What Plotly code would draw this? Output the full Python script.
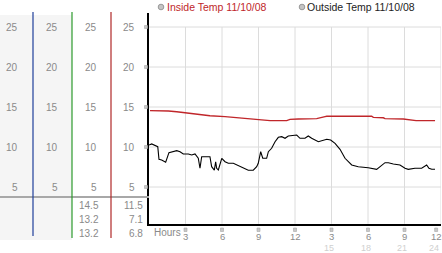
import plotly.graph_objects as go

W, H = 442, 253

# ---- data ----
inside_hours = [0.08, 1.32, 1.59, 2.28, 3.51, 4.33, 5.01, 6.25, 7.34, 7.89, 9.12, 9.95, 11.32,
                11.59, 12.27, 13.78, 14.47, 14.61, 18.3, 18.44, 19.26, 19.4, 20.9, 21.86, 21.95, 23.51]
inside_temp = [14.55, 14.55, 14.5, 14.4, 14.2, 14.1, 13.9, 13.8, 13.65, 13.6, 13.45, 13.3, 13.3,
               13.45, 13.5, 13.55, 13.8, 13.85, 13.85, 13.7, 13.65, 13.55, 13.5, 13.4, 13.3, 13.3]

outside_hours = [0.0, 0.22, 0.72, 0.82, 1.04, 1.37, 1.64, 1.87, 2.28, 2.55, 2.82, 3.23, 3.51, 3.78,
                 4.05, 4.19, 4.33, 4.60, 5.01, 5.15, 5.37, 5.48, 5.56, 5.70, 5.98, 6.25, 6.52, 6.93,
                 7.21, 7.62, 7.89, 8.16, 8.57, 8.85, 8.98, 9.18, 9.35, 9.67, 9.81, 10.08, 10.36,
                 10.63, 10.91, 11.18, 11.45, 11.86, 12.14, 12.41, 12.82, 13.09, 13.37, 13.92, 14.19,
                 14.61, 14.93, 15.29, 15.70, 16.11, 16.66, 17.20, 18.02, 18.71, 19.40, 19.67, 20.08,
                 20.63, 21.04, 21.31, 21.86, 22.41, 22.82, 23.01, 23.24, 23.51]
outside_temp = [10.25, 10.38, 10.04, 8.46, 8.38, 8.09, 9.29, 9.41, 9.54, 9.41, 9.13, 9.13, 9.0, 9.13,
                8.59, 7.34, 8.79, 8.79, 8.79, 7.54, 7.1, 8.16, 7.34, 7.13, 8.59, 8.16, 7.96, 7.96,
                7.75, 7.54, 7.34, 7.1, 7.1, 7.54, 7.96, 9.41, 8.59, 8.59, 9.41, 9.84, 10.66,
                11.21, 11.29, 11.09, 11.38, 11.5, 11.5, 11.09, 11.09, 11.38, 11.09, 10.66, 10.79,
                10.96, 10.88, 10.46, 9.71, 8.59, 7.75, 7.54, 7.41, 7.21, 8.04, 8.04, 7.88,
                7.75, 7.34, 7.21, 7.34, 7.34, 7.75, 7.34, 7.21, 7.21]

y_ticks = [5, 10, 15, 20, 25]
x_ticks = [3, 6, 9, 12, 15, 18, 21, 24]
x_tick_labels = ["3", "6", "9", "12", "3", "6", "9", "12"]
x_tick_labels2 = ["15", "18", "21", "24"]
legend_names = ["Inside Temp 11/10/08", "Outside Temp 11/10/08"]
inside_stats = ["14.5", "13.2", "13.2"]
outside_stats = ["11.5", "7.1", "6.8"]

def px(x):
    return x / W

def py(y):
    return 1 - y / H

FONT = "Liberation Sans, Arial, sans-serif"
GRAY = "#8a8a8a"
X0_PX, X1_PX = 149, 441

def hour_px(h):
    return X0_PX + (X1_PX - X0_PX) * h / 24.0

def val_py(v):
    return 227 - 8 * v

fig = go.Figure()
fig.add_trace(go.Scatter(x=inside_hours, y=inside_temp, mode="lines",
                         line=dict(color="#c0262a", width=1.4), hoverinfo="skip"))
fig.add_trace(go.Scatter(x=outside_hours, y=outside_temp, mode="lines",
                         line=dict(color="#000000", width=1.1), hoverinfo="skip"))

shapes = []
# left panel background
shapes.append(dict(type="rect", xref="paper", yref="paper", x0=px(0), x1=px(72), y0=py(240), y1=py(15),
                   fillcolor="#f5f5f5", line=dict(width=0), layer="below"))
# gridlines
for xv in x_ticks:
    shapes.append(dict(type="line", xref="x", yref="y", x0=xv, x1=xv, y0=0.4, y1=25,
                       line=dict(color="#dcdcdc", width=1), layer="below"))
for yv in y_ticks:
    shapes.append(dict(type="line", xref="x", yref="y", x0=0, x1=24, y0=yv, y1=yv,
                       line=dict(color="#dcdcdc", width=1), layer="below"))
# separator
shapes.append(dict(type="line", xref="paper", yref="paper", x0=px(0), x1=px(149), y0=py(197), y1=py(197),
                   line=dict(color="#a8a8a8", width=2)))
# colored column lines
for xx, col, yb in [(33, "#1f3f9a", 236), (72, "#2c9a2c", 238), (111, "#b02828", 238)]:
    shapes.append(dict(type="line", xref="paper", yref="paper", x0=px(xx), x1=px(xx), y0=py(yb), y1=py(12),
                       line=dict(color=col, width=1.2)))
# legend circles
for cx in [161, 302]:
    shapes.append(dict(type="circle", xref="paper", yref="paper", x0=px(cx - 2.8), x1=px(cx + 2.8),
                       y0=py(7 + 2.8), y1=py(7 - 2.8), fillcolor="#c4c4c4", line=dict(color="#999", width=1)))
# small tick marks beside y axis
for yv in y_ticks:
    yy = val_py(yv)
    shapes.append(dict(type="rect", xref="paper", yref="paper", x0=px(144.5), x1=px(147.5),
                       y0=py(yy + 1.5), y1=py(yy - 1.5), fillcolor="#c8c8c8", line=dict(color="#a8a8a8", width=0.6)))
# small tick marks above hour labels
for xv in x_ticks:
    xx = hour_px(min(xv, 23.6))
    shapes.append(dict(type="rect", xref="paper", yref="paper", x0=px(xx - 1.5), x1=px(xx + 1.5),
                       y0=py(231.5), y1=py(228), fillcolor="#c8c8c8", line=dict(color="#a8a8a8", width=0.6)))

ann = []
# left column tick labels
for right_x in [20, 60, 99, 137]:
    for yv in y_ticks:
        ann.append(dict(x=px(right_x), y=yv, xref="paper", yref="y", text=str(yv), showarrow=False,
                        xanchor="right", yanchor="middle", font=dict(family=FONT, size=10, color=GRAY)))
# stats
for i, (a, b) in enumerate(zip(inside_stats, outside_stats)):
    yy = 205 + i * 14
    ann.append(dict(x=px(101), y=py(yy), xref="paper", yref="paper", text=a, showarrow=False,
                    xanchor="right", yanchor="middle", font=dict(family=FONT, size=10, color=GRAY)))
    ann.append(dict(x=px(145), y=py(yy), xref="paper", yref="paper", text=b, showarrow=False,
                    xanchor="right", yanchor="middle", font=dict(family=FONT, size=10, color=GRAY)))
# x axis labels
ann.append(dict(x=px(152), y=py(232), xref="paper", yref="paper", text="Hours", showarrow=False,
                xanchor="left", yanchor="middle", font=dict(family=FONT, size=10, color=GRAY)))
for xv, lab in zip(x_ticks, x_tick_labels):
    xx = min(xv, 23.6)
    ann.append(dict(x=xx, y=py(236.5), xref="x", yref="paper", text=lab, showarrow=False, borderpad=0,
                    xanchor="center", yanchor="middle", font=dict(family=FONT, size=9.5, color=GRAY)))
for xv, lab in zip(x_ticks[4:], x_tick_labels2):
    xx = min(xv, 23.6) - 0.2
    ann.append(dict(x=xx, y=py(247.5), xref="x", yref="paper", text=lab, showarrow=False, borderpad=0,
                    xanchor="center", yanchor="middle", font=dict(family=FONT, size=9, color="#cfcfcf")))
# legend texts
ann.append(dict(x=px(165), y=py(7), xref="paper", yref="paper", text=legend_names[0], showarrow=False,
                xanchor="left", yanchor="middle", font=dict(family=FONT, size=10.5, color="#c0262a")))
ann.append(dict(x=px(305), y=py(7), xref="paper", yref="paper", text=legend_names[1], showarrow=False,
                xanchor="left", yanchor="middle", font=dict(family=FONT, size=10.5, color="#222222")))

fig.update_layout(
    width=W, height=H, margin=dict(l=0, r=0, t=0, b=0),
    paper_bgcolor="white", plot_bgcolor="white", showlegend=False,
    shapes=shapes, annotations=ann,
    xaxis=dict(domain=[X0_PX / W, X1_PX / W], range=[0, 24], showgrid=False, zeroline=False,
               showticklabels=False, ticks="", showline=True, linecolor="black", linewidth=2, fixedrange=True),
    yaxis=dict(domain=[1 - 224 / H, 1 - 13 / H], range=[(227 - 224) / 8, (227 - 13) / 8], showgrid=False,
               zeroline=False, showticklabels=False, ticks="", showline=True, linecolor="black", linewidth=2,
               fixedrange=True),
)

fig.write_html("out.html")
